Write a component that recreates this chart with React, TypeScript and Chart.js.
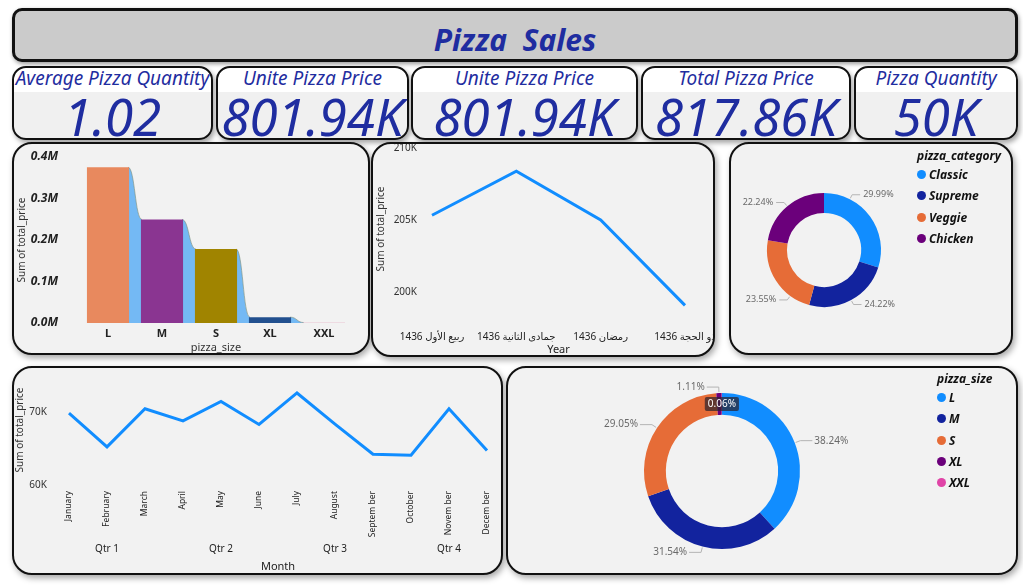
import React, { useEffect, useRef } from "react";
import { Chart, registerables } from "chart.js";

Chart.register(...registerables);

const FONT = "'Noto Sans', 'DejaVu Sans', sans-serif";
const NAVY = "#1f2da0";
const LINE_BLUE = "#118dff";

// KPI tiles
const kpiTitles = ["Average Pizza Quantity", "Unite Pizza Price", "Unite Pizza Price", "Total Pizza Price", "Pizza Quantity"];
const kpiValues = ["1.02", "801.94K", "801.94K", "817.86K", "50K"];

// Sum of total_price by pizza_size
const sizeLabels = ["L", "M", "S", "XL", "XXL"];
const sizeTotalPrice = [375300, 249400, 178100, 14100, 1000];
const sizeBarColors = ["#e8895e", "#8a3591", "#a08400", "#22508f", "#e9c3d2"];

// Sum of total_price by period
const periodLabels = ["ربيع الأول 1436", "جمادى الثانية 1436", "رمضان 1436", "ذو الحجة 1436"];
const periodTotalPrice = [205350, 208400, 205020, 199120];
const periodTicks = [200000, 205000, 210000];

// Share by pizza_category
const categoryLabels = ["Classic", "Supreme", "Veggie", "Chicken"];
const categoryShare = [29.99, 24.22, 23.55, 22.24];
const categoryColors = ["#118dff", "#12239e", "#e66c37", "#6b007b"];
// where along each slice its leader line leaves the ring (0 = slice start, 1 = slice end)
const categoryLabelAnchor = [0.25, 0.5, 0.25, 0.5];

// Sum of total_price by month
const monthLabels = ["January", "February", "March", "April", "May", "June", "July", "August", "Septem ber", "October", "Novem ber", "Decem ber"];
const quarterLabels = ["", "Qtr 1", "", "", "Qtr 2", "", "", "Qtr 3", "", "", "Qtr 4", ""];
const monthTotalPrice = [69800, 65200, 70400, 68750, 71400, 68250, 72550, 68300, 64200, 64050, 70400, 64700];
const monthTicks = [60000, 70000];

// Share by pizza_size
const sizeShare = [38.24, 31.54, 29.05, 1.11, 0.06];
const sizeShareColors = ["#118dff", "#12239e", "#e66c37", "#6b007b", "#e044a7"];
const sizeLabelAnchor = [0.5, 0.5, 0.5, 0.5, 0.5];

// Smooth ribbon joining the tops of neighbouring bars
const ribbonPlugin = {
  id: "sizeRibbon",
  beforeDatasetsDraw(chart: any) {
    const meta = chart.getDatasetMeta(0);
    const ctx = chart.ctx;
    ctx.save();
    for (let i = 0; i < meta.data.length - 1; i++) {
      const a = meta.data[i].getProps(["x", "y", "base", "width"], true);
      const b = meta.data[i + 1].getProps(["x", "y", "base", "width"], true);
      const ax = a.x + a.width / 2 - 1;
      const bx = b.x - b.width / 2 + 1;
      const mid = (ax + bx) / 2;
      ctx.beginPath();
      ctx.moveTo(ax, a.y);
      ctx.bezierCurveTo(mid, a.y, mid, b.y, bx, b.y);
      ctx.lineTo(bx, a.base);
      ctx.lineTo(ax, a.base);
      ctx.closePath();
      ctx.fillStyle = "#74b9f4";
      ctx.fill();
      ctx.beginPath();
      ctx.moveTo(ax, a.y);
      ctx.bezierCurveTo(mid, a.y, mid, b.y, bx, b.y);
      ctx.strokeStyle = "rgba(120,140,120,0.6)";
      ctx.lineWidth = 1;
      ctx.stroke();
    }
    ctx.restore();
  },
};

// Percentage labels with leader lines around a doughnut
const donutLabelPlugin = {
  id: "donutLabels",
  afterDraw(chart: any, _args: any, opts: any) {
    const ctx = chart.ctx;
    const meta = chart.getDatasetMeta(0);
    const values: number[] = chart.data.datasets[0].data;
    ctx.save();
    meta.data.forEach((arc: any, i: number) => {
      const p = arc.getProps(["x", "y", "startAngle", "endAngle", "outerRadius", "innerRadius"], true);
      const t = opts.anchors ? opts.anchors[i] : 0.5;
      const ang = p.startAngle + (p.endAngle - p.startAngle) * t;
      const cos = Math.cos(ang);
      const sin = Math.sin(ang);
      const text = values[i].toFixed(2) + "%";
      if (values[i] < opts.boxedBelow) {
        const r = (p.outerRadius + p.innerRadius) / 2;
        const cx = p.x + cos * r;
        const cy = p.y + sin * r;
        ctx.font = `10px ${FONT}`;
        const w = ctx.measureText(text).width + 6;
        const h = 14;
        ctx.fillStyle = "rgba(45,35,45,0.72)";
        ctx.beginPath();
        ctx.roundRect(cx - w / 2, cy - h / 2, w, h, 2);
        ctx.fill();
        ctx.fillStyle = "#ffffff";
        ctx.textAlign = "center";
        ctx.textBaseline = "middle";
        ctx.fillText(text, cx, cy + 0.5);
        return;
      }
      const x0 = p.x + cos * (p.outerRadius + 1);
      const y0 = p.y + sin * (p.outerRadius + 1);
      const x1 = p.x + cos * (p.outerRadius + opts.elbow);
      const y1 = p.y + sin * (p.outerRadius + opts.elbow);
      const side = cos >= 0 ? 1 : -1;
      const x2 = x1 + side * opts.arm;
      ctx.beginPath();
      ctx.moveTo(x0, y0);
      ctx.lineTo(x1, y1);
      ctx.lineTo(x2, y1);
      ctx.strokeStyle = "#b4b4b4";
      ctx.lineWidth = 1;
      ctx.stroke();
      ctx.font = `${opts.fontSize}px ${FONT}`;
      ctx.fillStyle = "#6a6a6a";
      ctx.textAlign = side > 0 ? "left" : "right";
      ctx.textBaseline = "middle";
      ctx.fillText(text, x2 + side * opts.gap, y1);
    });
    ctx.restore();
  },
};

const axisTitleFont = { family: FONT, size: 10 };

// fixed axis sizes; drop the automatic edge padding so the plot area stays put
const fixWidth = (w: number) => (s: any) => {
  s.width = w;
  s.paddingTop = 0;
  s.paddingBottom = 0;
};
const fixHeight = (h: number) => (s: any) => {
  s.height = h;
  s.paddingLeft = 0;
  s.paddingRight = 0;
};

function useChart(ref: React.RefObject<HTMLCanvasElement>, build: (c: HTMLCanvasElement) => Chart) {
  useEffect(() => {
    if (!ref.current) return;
    const chart = build(ref.current);
    return () => chart.destroy();
  }, []);
}

function SizeBarChart() {
  const ref = useRef<HTMLCanvasElement>(null);
  useChart(ref, (c) =>
    new Chart(c, {
      type: "bar",
      data: {
        labels: sizeLabels,
        datasets: [
          {
            data: sizeTotalPrice,
            backgroundColor: sizeBarColors,
            borderWidth: 0,
            categoryPercentage: 1,
            barPercentage: 0.78,
          },
        ],
      },
      options: {
        responsive: false,
        animation: false,
        layout: { padding: { left: 0, top: 15, right: 19, bottom: 0 } },
        plugins: { legend: { display: false }, tooltip: { enabled: false } },
        scales: {
          x: {
            grid: { display: false, drawTicks: false },
            border: { display: false },
            ticks: { color: "#222", font: { family: FONT, size: 11, weight: "bold" }, padding: 4 },
            title: { display: true, text: "pizza_size", color: "#333", font: { family: FONT, size: 11 }, padding: { top: 0, bottom: 1 } },
            afterFit: fixHeight(32),
          },
          y: {
            min: 0,
            max: 400000,
            grid: { display: false, drawTicks: false },
            border: { display: false },
            ticks: {
              stepSize: 100000,
              padding: 23,
              color: "#222",
              font: { family: FONT, size: 12, weight: "bold", style: "italic" },
              callback: (v: any) => (Number(v) / 1e6).toFixed(1) + "M",
            },
            title: { display: true, text: "Sum of total_price", color: "#333", font: axisTitleFont, padding: { top: 4, bottom: 0 } },
            afterFit: fixWidth(69),
          },
        },
      },
      plugins: [ribbonPlugin],
    } as any)
  );
  return <canvas ref={ref} width={358} height={213} style={{ position: "absolute", left: -2, top: -2 }} />;
}

function PeriodLineChart() {
  const ref = useRef<HTMLCanvasElement>(null);
  useChart(ref, (c) =>
    new Chart(c, {
      type: "line",
      data: {
        labels: periodLabels,
        datasets: [{ data: periodTotalPrice, borderColor: LINE_BLUE, borderWidth: 3, pointRadius: 0, tension: 0 }],
      },
      options: {
        responsive: false,
        animation: false,
        layout: { padding: { left: 0, top: 6, right: 46, bottom: 0 } },
        plugins: { legend: { display: false }, tooltip: { enabled: false } },
        scales: {
          x: {
            grid: { display: false, drawTicks: false },
            border: { display: false },
            ticks: { color: "#222", font: { family: FONT, size: 10 }, padding: 21, maxRotation: 0, autoSkip: false },
            title: { display: true, text: "Year", color: "#222", font: { family: FONT, size: 11 }, padding: { top: 0, bottom: 3 } },
            afterFit: fixHeight(49),
          },
          y: {
            min: 198800,
            max: 210000,
            grid: { display: false, drawTicks: false },
            border: { display: false },
            afterBuildTicks: (s: any) => { s.ticks = periodTicks.map((v) => ({ value: v })); },
            ticks: { padding: 15, color: "#333", font: { family: FONT, size: 10 }, callback: (v: any) => Number(v) / 1000 + "K" },
            title: { display: true, text: "Sum of total_price", color: "#333", font: axisTitleFont, padding: { top: 4, bottom: 0 } },
            afterFit: fixWidth(61),
          },
        },
      },
    } as any)
  );
  return <canvas ref={ref} width={360} height={217} style={{ position: "absolute", left: -2, top: -2 }} />;
}

function MonthLineChart() {
  const ref = useRef<HTMLCanvasElement>(null);
  useChart(ref, (c) =>
    new Chart(c, {
      type: "line",
      data: {
        labels: monthLabels,
        datasets: [{ data: monthTotalPrice, borderColor: LINE_BLUE, borderWidth: 3, pointRadius: 0, tension: 0 }],
      },
      options: {
        responsive: false,
        animation: false,
        layout: { padding: { left: 0, top: 9, right: 16, bottom: 0 } },
        plugins: { legend: { display: false }, tooltip: { enabled: false } },
        scales: {
          x: {
            weight: 0,
            grid: { display: false, drawTicks: false },
            border: { display: false },
            ticks: { color: "#222", font: { family: FONT, size: 8.5 }, padding: 6, minRotation: 90, maxRotation: 90, autoSkip: false },
            afterFit: fixHeight(56),
          },
          xq: {
            type: "category",
            labels: quarterLabels,
            position: "bottom",
            weight: 1,
            grid: { display: false, drawTicks: false },
            border: { display: false },
            ticks: { color: "#222", font: { family: FONT, size: 10 }, padding: 2, maxRotation: 0, autoSkip: false },
            title: { display: true, text: "Month", color: "#222", font: { family: FONT, size: 11 }, padding: { top: 0, bottom: 2 } },
            afterFit: fixHeight(34),
          },
          y: {
            min: 60000,
            max: 75000,
            grid: { display: false, drawTicks: false },
            border: { display: false },
            afterBuildTicks: (s: any) => { s.ticks = monthTicks.map((v) => ({ value: v })); },
            ticks: { padding: 22, color: "#333", font: { family: FONT, size: 10 }, callback: (v: any) => Number(v) / 1000 + "K" },
            title: { display: true, text: "Sum of total_price", color: "#333", font: axisTitleFont, padding: { top: 2, bottom: 0 } },
            afterFit: fixWidth(57),
          },
        },
      },
    } as any)
  );
  return <canvas ref={ref} width={491} height={209} style={{ position: "absolute", left: -2, top: -2 }} />;
}

function Donut(props: {
  labels: string[];
  values: number[];
  colors: string[];
  anchors: number[];
  width: number;
  height: number;
  padding: { left: number; right: number; top: number; bottom: number };
  cutout: string;
  elbow: number;
  arm: number;
  gap: number;
  fontSize: number;
}) {
  const ref = useRef<HTMLCanvasElement>(null);
  useChart(ref, (c) =>
    new Chart(c, {
      type: "doughnut",
      data: {
        labels: props.labels,
        datasets: [{ data: props.values, backgroundColor: props.colors, borderWidth: 0 }],
      },
      options: {
        responsive: false,
        animation: false,
        cutout: props.cutout,
        layout: { padding: props.padding },
        plugins: {
          legend: { display: false },
          tooltip: { enabled: false },
          donutLabels: {
            anchors: props.anchors,
            elbow: props.elbow,
            arm: props.arm,
            gap: props.gap,
            fontSize: props.fontSize,
            boxedBelow: 0.5,
          },
        },
      },
      plugins: [donutLabelPlugin],
    } as any)
  );
  return <canvas ref={ref} width={props.width} height={props.height} style={{ position: "absolute", left: -2, top: -2 }} />;
}

function Legend(props: { left: number; top: number; title: string; labels: string[]; colors: string[] }) {
  return (
    <div style={{ position: "absolute", left: props.left, top: props.top, fontFamily: FONT, fontStyle: "italic", fontWeight: 700, color: "#111" }}>
      <div style={{ fontSize: 12, lineHeight: "16px" }}>{props.title}</div>
      {props.labels.map((l, i) => (
        <div key={l} style={{ display: "flex", alignItems: "center", height: 21.3, fontSize: 12 }}>
          <span style={{ width: 9, height: 9, borderRadius: "50%", background: props.colors[i], marginRight: 3, display: "inline-block" }} />
          {l}
        </div>
      ))}
    </div>
  );
}

const cardStyle = (left: number, top: number, width: number, height: number): React.CSSProperties => ({
  position: "absolute",
  left,
  top,
  width,
  height,
  boxSizing: "border-box",
  border: "2px solid #111",
  borderRadius: 20,
  background: "#f2f2f2",
  overflow: "hidden",
  boxShadow: "2px 3px 6px rgba(0,0,0,0.35)",
});

const kpiBoxes = [
  { left: 12, width: 201 },
  { left: 216, width: 193 },
  { left: 411, width: 227 },
  { left: 641, width: 210 },
  { left: 854, width: 164 },
];

export default function App() {
  return (
    <div style={{ position: "fixed", left: 0, top: 0, width: 1023, height: 587, background: "#ffffff", fontFamily: FONT, overflow: "hidden" }}>
      <div
        style={{
          position: "absolute",
          left: 12,
          top: 8,
          width: 1006,
          height: 54,
          boxSizing: "border-box",
          border: "3px solid #111",
          borderRadius: 10,
          background: "#cbcbcb",
          boxShadow: "1px 2px 4px rgba(0,0,0,0.4)",
          display: "flex",
          alignItems: "center",
          justifyContent: "center",
          paddingTop: 8,
          whiteSpace: "pre",
          color: NAVY,
          fontSize: 30,
          fontWeight: 700,
          fontStyle: "italic",
        }}
      >
        {"Pizza  Sales"}
      </div>

      {kpiBoxes.map((b, i) => (
        <div
          key={i}
          style={{
            position: "absolute",
            left: b.left,
            top: 66,
            width: b.width,
            height: 74,
            boxSizing: "border-box",
            border: "2px solid #111",
            borderRadius: 14,
            background: "linear-gradient(#ffffff 0, #ffffff 34%, #f0f0f0 34%)",
            boxShadow: "2px 3px 5px rgba(0,0,0,0.35)",
            overflow: "hidden",
            color: NAVY,
            fontStyle: "italic",
            textAlign: "center",
          }}
        >
          <div style={{ position: "absolute", left: -10, right: -10, top: -2, fontSize: 19, lineHeight: "24px", whiteSpace: "nowrap" }}>{kpiTitles[i]}</div>
          <div style={{ position: "absolute", left: -20, right: -20, top: 21, fontSize: 51, lineHeight: "54px", whiteSpace: "nowrap" }}>{kpiValues[i]}</div>
        </div>
      ))}

      <div style={cardStyle(12, 142, 358, 213)}>
        <SizeBarChart />
      </div>
      <div style={cardStyle(371, 142, 344, 215)}>
        <PeriodLineChart />
      </div>
      <div style={cardStyle(729, 142, 284, 213)}>
        <Donut
          labels={categoryLabels}
          values={categoryShare}
          colors={categoryColors}
          anchors={categoryLabelAnchor}
          width={284}
          height={213}
          padding={{ left: 38, right: 132, top: 51, bottom: 48 }}
          cutout="65%"
          elbow={5}
          arm={8}
          gap={3}
          fontSize={9}
        />
      </div>
      <div style={cardStyle(12, 366, 491, 209)}>
        <MonthLineChart />
      </div>
      <div style={cardStyle(506, 366, 512, 209)}>
        <Donut
          labels={sizeLabels}
          values={sizeShare}
          colors={sizeShareColors}
          anchors={sizeLabelAnchor}
          width={512}
          height={209}
          padding={{ left: 138, right: 218, top: 27, bottom: 26 }}
          cutout="72%"
          elbow={6}
          arm={12}
          gap={2}
          fontSize={10}
        />
      </div>

      <Legend left={917} top={148} title="pizza_category" labels={categoryLabels} colors={categoryColors} />
      <Legend left={937} top={371} title="pizza_size" labels={sizeLabels} colors={sizeShareColors} />
    </div>
  );
}
